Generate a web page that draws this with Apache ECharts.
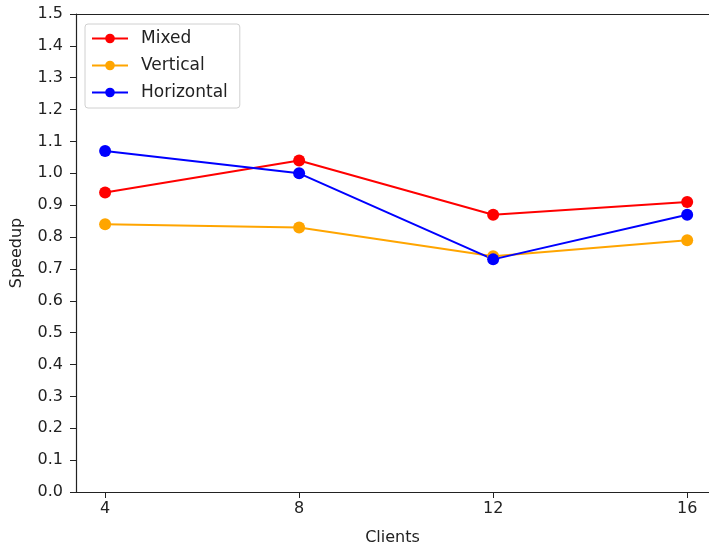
<!DOCTYPE html>
<html>
<head>
<meta charset="utf-8">
<script src="https://cdn.jsdelivr.net/npm/echarts@6/dist/echarts.min.js"></script>
<style>
html,body{margin:0;padding:0;background:#fff;}
#chart{width:709px;height:548px;}
</style>
</head>
<body>
<div id="chart"></div>
<script>
// speedup per client count
const clients=[4,8,12,16];
const mixed=[0.94,1.04,0.87,0.91];
const vertical=[0.84,0.83,0.74,0.79];
const horizontal=[1.07,1.00,0.73,0.87];

const font="DejaVu Sans";

function pairs(vals){
    return clients.map((c,i)=>[c,vals[i]]);
}

function line(name,color,vals){
    return {
        name:name,
        type:"line",
        data:pairs(vals),
        symbol:"circle",
        symbolSize:12,
        lineStyle:{color:color,width:2},
        itemStyle:{color:color},
        animation:false
    };
}

const chart=echarts.init(document.getElementById("chart"));

// the original figure is cropped on the right, so the x range stops short
chart.setOption({
    backgroundColor:"#fff",
    grid:{left:76,right:0,top:14,bottom:56,outerBoundsMode:"none"},
    legend:{
        left:85,
        top:24,
        orient:"vertical",
        itemWidth:36,
        itemHeight:12,
        itemGap:10,
        padding:[6,12,7,6],
        borderColor:"#d0d0d0",
        borderWidth:1,
        borderRadius:3,
        backgroundColor:"#fff",
        textStyle:{fontFamily:font,fontSize:17,color:"#222",padding:[0,0,0,8]},
        data:["Mixed","Vertical","Horizontal"]
    },
    xAxis:[{
        type:"value",
        min:3.4,
        max:16.45,
        name:"Clients",
        nameLocation:"middle",
        nameGap:38,
        nameTextStyle:{fontFamily:font,fontSize:16,color:"#222"},
        axisLine:{onZero:false,lineStyle:{color:"#222",width:1.2}},
        axisTick:{show:true,length:6,customValues:clients,lineStyle:{color:"#222"}},
        axisLabel:{customValues:clients,fontFamily:font,fontSize:16,color:"#222",margin:9},
        splitLine:{show:false}
    },{
        type:"value",
        position:"top",
        min:3.4,
        max:16.45,
        axisLine:{show:true,onZero:false,lineStyle:{color:"#222",width:1.2}},
        axisTick:{show:false},
        axisLabel:{show:false},
        splitLine:{show:false}
    }],
    yAxis:{
        type:"value",
        min:0,
        max:1.5,
        interval:0.1,
        name:"Speedup",
        nameLocation:"middle",
        nameGap:51,
        nameTextStyle:{fontFamily:font,fontSize:16,color:"#222"},
        axisLine:{show:true,lineStyle:{color:"#222",width:1.2}},
        axisTick:{show:true,length:6,lineStyle:{color:"#222"}},
        axisLabel:{fontFamily:font,fontSize:16,color:"#222",margin:13,formatter:v=>v.toFixed(1)},
        splitLine:{show:false}
    },
    series:[
        line("Mixed","#ff0000",mixed),
        line("Vertical","#ffa500",vertical),
        line("Horizontal","#0000ff",horizontal)
    ]
});
</script>
</body>
</html>
